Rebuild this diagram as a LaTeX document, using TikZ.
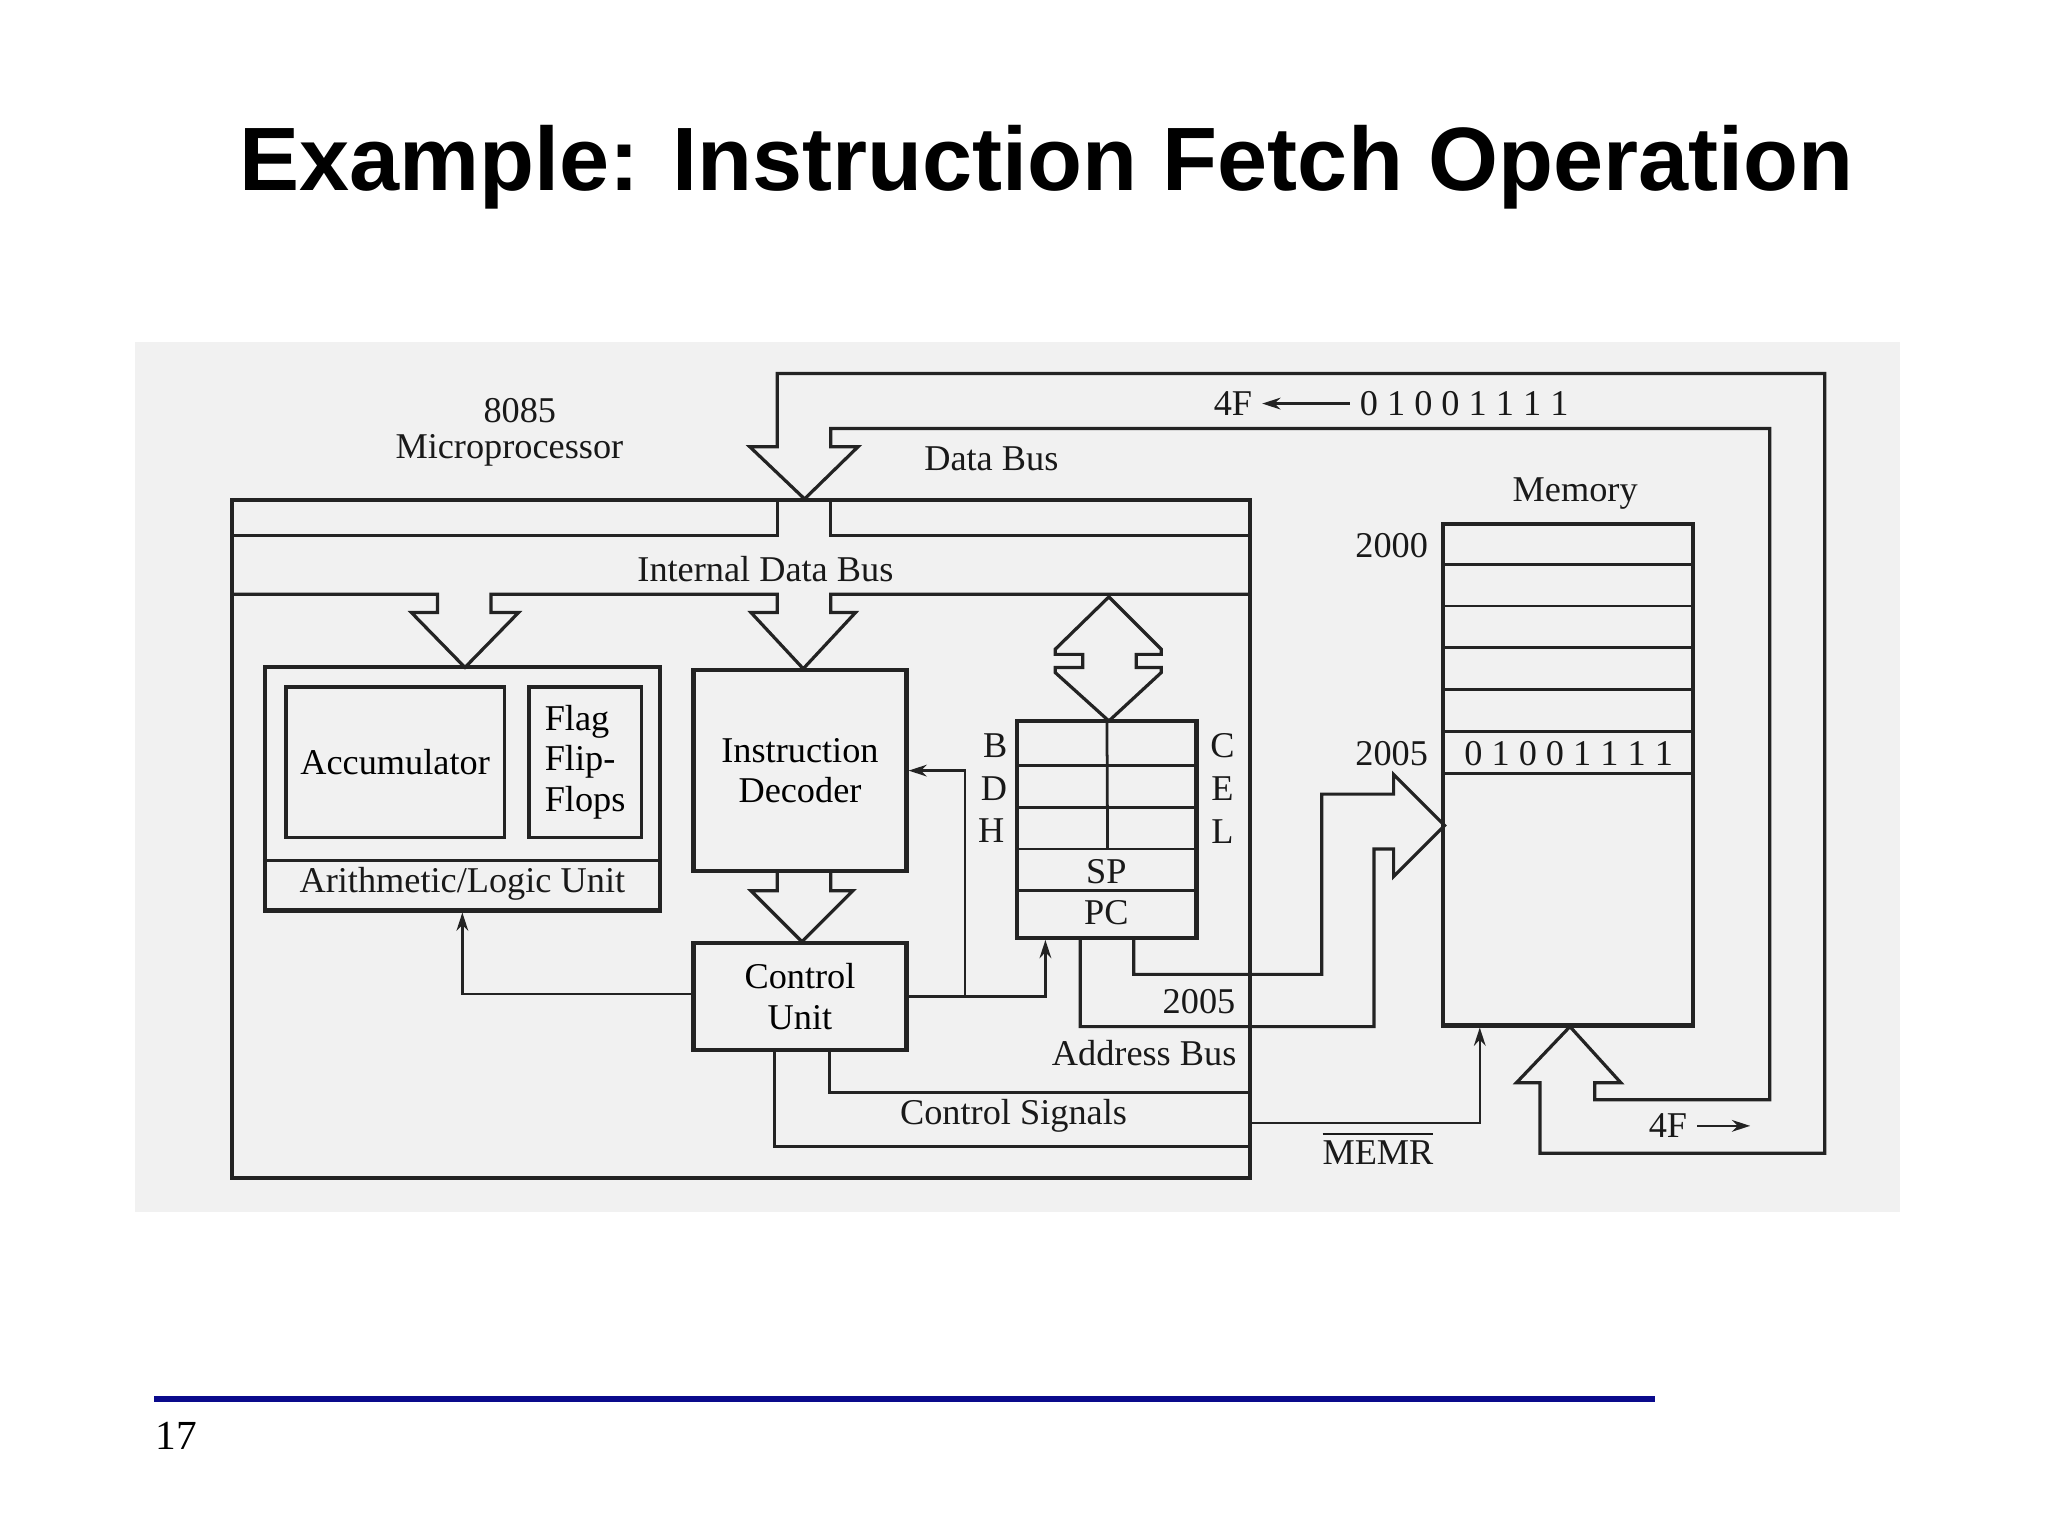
\documentclass[tikz,border=0pt]{standalone}
\usepackage{fontspec}
\setmainfont{Liberation Serif}
\newfontfamily\titlefont{Liberation Sans}
\usetikzlibrary{arrows.meta}
\definecolor{slideblue}{RGB}{10,10,140}
\definecolor{scan}{RGB}{241,241,241}
\definecolor{ink}{RGB}{35,35,35}
\tikzset{
  font={\fontsize{7.9pt}{8.8pt}\selectfont},
  box/.style={draw=ink, line width=0.9pt, rectangle, inner sep=0pt},
  inbox/.style={draw=ink, line width=0.75pt, rectangle, inner sep=0pt},
  cell/.style={draw=ink, line width=0.6pt},
  bus/.style={draw=ink, line width=0.7pt, line join=miter},
  sig/.style={draw=ink, line width=0.5pt, -{Stealth[length=1.4mm,width=0.9mm]}},
  lbl/.style={text=black!90, inner sep=0pt}}

\begin{document}
\begin{tikzpicture}[x=0.01cm, y=-0.01cm]
\useasboundingbox (0,0) rectangle (1568,1176);
\fill[scan] (103,262) rectangle (1455,928);
\node[font=\titlefont\bfseries\fontsize{19.6pt}{24pt}\selectfont, anchor=base] (title) at (801,146) {Example: Instruction Fetch Operation};

% blocks
\node[box, minimum width=7.79cm, minimum height=5.19cm] (cpu) at (567.5,642.5) {};
\node[box, minimum width=3.02cm, minimum height=1.86cm] (alu) at (354,604) {};
\node[inbox, minimum width=1.67cm, minimum height=1.15cm] (acc) at (302.5,583.5) {Accumulator};
\node[inbox, minimum width=0.86cm, minimum height=1.15cm, align=left] (flag) at (448,583.5) {Flag\\Flip-\\Flops};
\draw[inbox] ([yshift=0.4cm]alu.south west) -- ([yshift=0.4cm]alu.south east);
\node[lbl] (alutxt) at (354,677) {Arithmetic/Logic Unit};
\node[box, minimum width=1.63cm, minimum height=1.54cm, align=center] (dec) at (612.5,590) {Instruction\\Decoder};
\node[box, minimum width=1.63cm, minimum height=0.82cm, align=center] (ctrl) at (612.5,763) {Control\\Unit};
\node[box, minimum width=1.37cm, minimum height=1.66cm] (reg) at (847.5,635) {};
\node[box, minimum width=1.91cm, minimum height=3.84cm] (mem) at (1200.5,593) {};

% register rows
\foreach \y in {586,618,650,682} \draw[cell] (779,\y) -- (916,\y);
\draw[cell] (reg.north) -- (848,650);
\node[lbl] (rb) at (762,571) {B};
\node[lbl] (rd) at (761,604) {D};
\node[lbl] (rh) at (759,636) {H};
\node[lbl] (rc) at (936,571) {C};
\node[lbl] (re) at (936,604) {E};
\node[lbl] (rl) at (936,637) {L};
\node[lbl] (sp) at (847,667) {SP};
\node[lbl] (pc) at (847,699) {PC};

% memory rows
\foreach \y in {432,464,496,528,560,592} \draw[cell] (1105,\y) -- (1296,\y);
\node[lbl, anchor=east] (m2000) at (1094,418) {2000};
\node[lbl, anchor=east] (m2005) at (1094,577) {2005};
\node[lbl] (mword) at (1201,577) {0 1 0 0 1 1 1 1};
\node[lbl] (memtxt) at (1206,378) {Memory};

% labels
\node[lbl] (n8085) at (398,314) {8085};
\node[lbl] (mpu) at (390,345) {Microprocessor};
\node[lbl] (dbus) at (759,351) {Data Bus};
\node[lbl] (ibus) at (586,436) {Internal Data Bus};
\node[lbl] (bits) at (1121,309) {0 1 0 0 1 1 1 1};
\node[lbl] (hexin) at (944,309) {4F};
\node[lbl] (a2005) at (918,767) {2005};
\node[lbl] (abus) at (876,806) {Address Bus};
\node[lbl] (csig) at (776,854) {Control Signals};
\node[lbl] (memr) at (1055,879) {$\overline{\mbox{MEMR}}$};
\node[lbl] (hexout) at (1277,862) {4F};
\coordinate (outtip) at (1340,862);

% internal data bus
\draw[bus] (178,410) -- (595,410) -- (595,383);
\draw[bus] (636,383) -- (636,410) -- (957,410);
\draw[bus] (178,455) -- (335,455) -- (335,469) -- (315,469) -- (356,511) -- (397,469) -- (376,469) -- (376,455)
  -- (595,455) -- (595,469) -- (575,469) -- (615,512) -- (655,469) -- (636,469) -- (636,455) -- (957,455);
\draw[bus] (849,457) -- (889,497) -- (889,501) -- (870,501) -- (870,511) -- (889,511) -- (889,515) -- (849,552)
  -- (808,515) -- (808,511) -- (829,511) -- (829,501) -- (808,501) -- (808,497) -- cycle;
\draw[bus] (595,667) -- (595,682) -- (575,682) -- (614,721) -- (653,682) -- (636,682) -- (636,667);

% data bus loop
\draw[bus] (1179,829) -- (1179,883) -- (1397,883) -- (1397,286) -- (595,286) -- (595,342) -- (574,342) -- (616,382)
  -- (657,342) -- (636,342) -- (636,328) -- (1355,328) -- (1355,842) -- (1221,842) -- (1221,829) -- (1241,829)
  -- (1202,786) -- (1161,829) -- cycle;

% address bus
\draw[bus] ([xshift=-0.205cm]reg.south) -- (827,786) -- (1052,786) -- (1052,650) -- (1067,650) -- (1067,671)
  -- (1106,632) -- (1067,593) -- (1067,608) -- (1012,608) -- (1012,746) -- (868,746) -- ([xshift=0.205cm]reg.south);

% control signals
\draw[bus] ([xshift=-0.195cm]ctrl.south) |- ([yshift=0.26cm]cpu.south east);
\draw[bus] ([xshift=0.225cm]ctrl.south) |- ([yshift=0.67cm]cpu.south east);
\draw[sig] ([yshift=0.44cm]cpu.south east) -| ([xshift=-0.675cm]mem.south);
\draw[sig] ([yshift=0.02cm]ctrl.west) -| (alu.south);
\draw[sig] (ctrl.east) -| ([xshift=0.23cm]reg.south west);
\draw[sig] (ctrl.east) ++(43,0) |- (dec.east);
\draw[sig, shorten <=0.07cm, shorten >=0.07cm] (bits.west) -- (hexin.east);
\draw[sig, shorten <=0.07cm] (hexout.east) -- (outtip);

% footer
\draw[slideblue, line width=1.3pt] (118,1071) -- (1267,1071);
\node[font=\fontsize{9pt}{10pt}\selectfont] (pageno) at (135,1099) {17};
\end{tikzpicture}
\end{document}
